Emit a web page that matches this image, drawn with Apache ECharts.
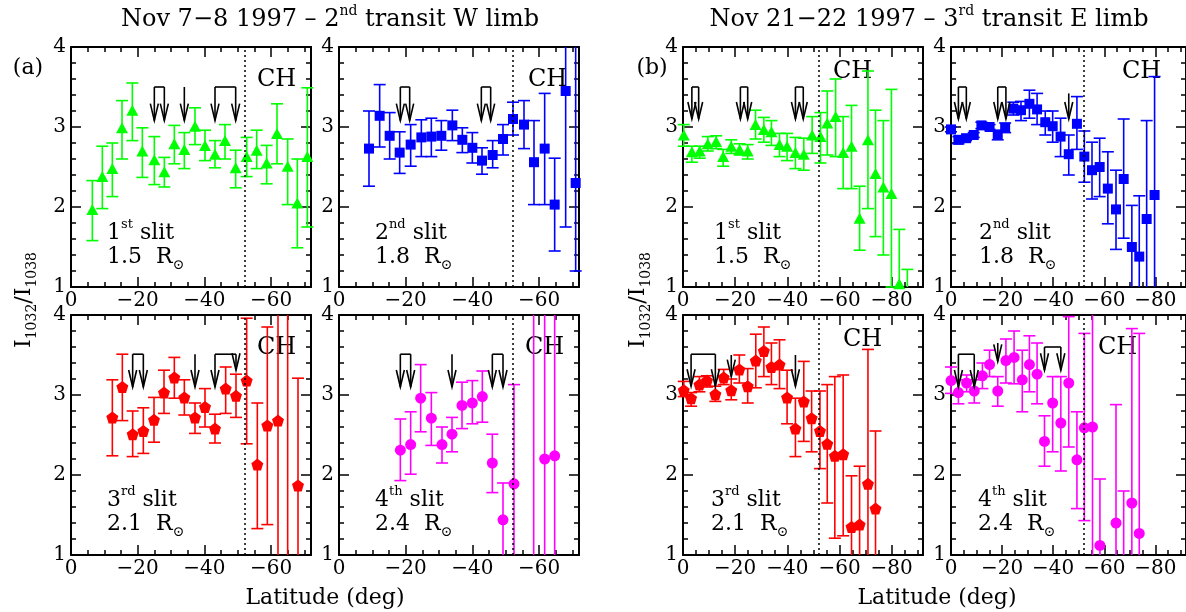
<!DOCTYPE html>
<html>
<head>
<meta charset="utf-8">
<script src="https://cdn.jsdelivr.net/npm/echarts@6/dist/echarts.min.js"></script>
<style>
  html, body { margin: 0; padding: 0; background: #fff; }
  #chart { width: 1186px; height: 612px; }
</style>
</head>
<body>
<div id="chart"></div>
<script>
// ---------- Nov 7-8 1997, 2nd transit, W limb ----------
const w1Lat = [-6.4,-9.4,-12.4,-15.3,-18.4,-21.4,-25.0,-28.0,-31.0,-34.0,-37.2,-40.2,-43.2,-46.2,-49.4,-52.7,-55.7,-58.7,-61.8,-65.0,-67.9,-70.9];
const w1Val = [1.97,2.38,2.48,2.99,3.21,2.70,2.59,2.44,2.79,2.72,3.01,2.77,2.66,2.83,2.49,2.63,2.71,2.55,2.92,2.51,2.05,2.63];
const w1Hi  = [2.33,2.76,2.80,3.33,3.55,2.99,2.88,2.62,3.02,2.93,3.24,2.96,2.83,3.03,2.71,2.87,2.96,2.77,3.29,2.85,2.60,3.49];
const w1Lo  = [1.58,1.98,2.13,2.60,2.83,2.37,2.28,2.25,2.54,2.48,2.78,2.58,2.49,2.60,2.24,2.38,2.48,2.29,2.54,2.03,1.49,1.75];

const w2Lat = [-9.0,-12.2,-15.2,-18.2,-21.5,-24.7,-27.7,-30.7,-34.0,-37.0,-40.0,-42.9,-46.1,-49.2,-52.2,-55.5,-58.5,-61.7,-64.7,-68.0,-71.0];
const w2Val = [2.73,3.14,2.89,2.68,2.78,2.87,2.88,2.89,3.02,2.84,2.74,2.58,2.65,2.85,3.10,3.03,2.56,2.73,2.03,3.45,2.30];
const w2Hi  = [3.20,3.53,3.18,2.94,3.03,3.09,3.11,3.08,3.21,2.99,2.93,2.74,2.83,3.03,3.31,3.33,3.08,3.42,2.61,4.60,4.20];
const w2Lo  = [2.26,2.75,2.60,2.42,2.51,2.63,2.63,2.71,2.83,2.68,2.55,2.41,2.49,2.65,2.90,2.73,2.03,2.03,1.45,1.75,1.20];

const w3Lat = [-12.4,-15.4,-18.5,-21.7,-24.9,-27.9,-31.0,-34.0,-37.2,-40.2,-43.2,-46.4,-49.5,-52.7,-55.9,-58.9,-62.1,-65.0,-68.1];
const w3Val = [2.72,3.10,2.51,2.55,2.69,3.03,3.22,2.97,2.72,2.85,2.58,3.08,2.99,3.18,2.13,2.62,2.68,0.80,1.87];
const w3Hi  = [3.19,3.51,2.80,2.84,2.97,3.31,3.47,3.19,2.90,3.08,2.76,3.35,3.26,3.96,2.90,3.85,4.50,4.50,3.21];
const w3Lo  = [2.24,2.68,2.23,2.27,2.41,2.77,2.96,2.75,2.52,2.60,2.40,2.77,2.72,2.39,1.33,1.38,0.50,0.50,0.50];

const w4Lat = [-18.4,-21.5,-24.5,-27.7,-30.9,-33.9,-36.9,-40.0,-43.0,-46.0,-49.2,-52.5,-58.4,-61.7,-64.7];
const w4Val = [2.31,2.38,2.96,2.71,2.38,2.51,2.87,2.90,2.98,2.15,1.44,1.89,0.80,2.20,2.24];
const w4Hi  = [2.70,2.79,3.38,3.03,2.60,2.72,3.16,3.18,3.30,2.51,1.90,3.13,4.50,4.50,4.50];
const w4Lo  = [1.93,2.01,2.54,2.37,2.15,2.29,2.58,2.64,2.66,1.78,0.80,0.50,0.50,0.50,0.50];

// ---------- Nov 21-22 1997, 3rd transit, E limb ----------
const e1Lat = [-0.3,-3.4,-6.4,-9.5,-12.7,-15.4,-18.5,-21.7,-24.8,-27.8,-31.0,-33.9,-37.0,-39.9,-43.1,-46.3,-49.5,-52.7,-55.3,-58.5,-61.4,-64.6,-67.7,-70.9,-73.8,-76.8,-79.9,-82.9,-86.0];
const e1Val = [2.90,2.69,2.70,2.79,2.82,2.63,2.76,2.72,2.70,3.03,2.97,2.94,2.78,2.76,2.68,2.66,2.90,2.88,3.05,3.13,2.68,2.76,1.86,2.84,2.42,2.25,2.17,1.04,0.90];
const e1Hi  = [3.03,2.76,2.76,2.88,2.89,2.72,2.84,2.79,2.78,3.21,3.12,3.08,2.92,2.92,2.87,2.86,3.13,3.18,3.45,3.60,3.13,3.27,2.26,3.70,3.21,3.08,3.47,1.72,1.22];
const e1Lo  = [2.76,2.56,2.61,2.70,2.73,2.51,2.67,2.65,2.60,2.85,2.81,2.77,2.63,2.58,2.48,2.46,2.67,2.55,2.65,2.63,2.23,2.23,1.46,1.98,1.63,1.40,1.00,0.50,0.50];

const e2Lat = [0.0,-2.9,-5.9,-8.9,-11.9,-15.1,-18.3,-21.2,-24.4,-27.4,-30.7,-33.7,-36.9,-39.8,-42.9,-46.1,-49.3,-52.2,-55.2,-58.2,-61.4,-64.6,-67.6,-70.8,-73.7,-76.6,-79.7];
const e2Val = [2.97,2.84,2.86,2.90,3.02,3.00,2.90,2.99,3.23,3.21,3.29,3.22,3.06,3.01,2.88,2.66,3.04,2.63,2.46,2.50,2.23,1.97,2.35,1.50,1.38,1.85,2.15];
const e2Hi  = [3.00,2.88,2.89,2.93,3.06,3.03,2.96,3.05,3.31,3.32,3.46,3.42,3.20,3.20,3.11,2.90,3.38,2.95,2.81,2.86,2.69,2.46,3.10,2.02,2.14,3.08,3.63];
const e2Lo  = [2.94,2.79,2.83,2.87,2.98,2.97,2.84,2.93,3.15,3.08,3.11,3.03,2.90,2.81,2.63,2.40,2.72,2.31,2.10,2.13,1.79,1.47,1.61,0.50,0.50,0.50,0.50];

const e3Lat = [-0.3,-3.1,-6.3,-9.2,-12.4,-15.6,-18.5,-21.6,-24.8,-27.9,-31.0,-33.9,-37.0,-39.9,-43.1,-46.3,-49.3,-52.5,-55.3,-58.2,-61.4,-64.6,-67.7,-70.9,-73.8];
const e3Val = [3.06,2.96,3.13,3.18,3.01,3.22,3.06,3.32,3.11,3.43,3.55,3.35,3.38,2.97,2.58,2.92,2.71,2.55,2.39,2.24,2.26,1.35,1.38,1.89,1.58];
const e3Hi  = [3.17,3.03,3.23,3.24,3.11,3.32,3.20,3.50,3.33,3.76,3.85,3.65,3.69,3.31,2.96,3.42,3.05,3.05,3.13,3.23,3.25,1.99,2.11,3.57,2.55];
const e3Lo  = [2.98,2.86,3.04,3.10,2.92,3.13,2.94,3.15,2.90,3.09,3.23,3.13,3.08,2.64,2.23,2.42,2.29,2.08,1.65,1.21,1.24,0.50,0.50,0.50,0.50];

const e4Lat = [0.0,-2.9,-6.1,-9.1,-12.3,-15.1,-18.3,-21.5,-24.7,-27.9,-30.7,-33.7,-36.6,-39.8,-43.0,-46.1,-49.3,-52.2,-55.4,-58.3,-64.6,-67.6,-70.8,-73.7];
const e4Val = [3.18,3.03,3.15,3.05,3.24,3.38,3.05,3.43,3.47,3.19,3.38,3.26,2.42,2.90,2.65,3.15,2.19,2.59,2.60,1.12,1.40,0.95,1.65,1.27];
const e4Hi  = [3.35,3.19,3.25,3.19,3.40,3.56,3.23,3.70,3.80,3.56,3.74,3.65,2.74,3.23,3.23,3.98,2.79,3.77,4.50,1.95,2.88,1.80,3.83,3.77];
const e4Lo  = [3.02,2.89,3.04,2.90,3.08,3.23,2.86,3.15,3.14,2.79,3.04,2.89,2.11,2.29,2.05,2.35,1.58,1.43,0.50,0.50,0.50,0.50,0.50,0.50];

// Downward arrows: [lat1, lat2, top, tip1, tip2] (a bracket joins lat1 and lat2 when they differ)
const w1Arrows = [[-25.0,-28.0,3.50,3.08,3.08],[-34.0,-34.0,3.50,3.08,3.08],[-43.2,-49.4,3.50,3.08,3.08]];
const w2Arrows = [[-18.4,-21.2,3.50,3.08,3.08],[-42.7,-45.5,3.50,3.08,3.08]];
const w3Arrows = [[-18.5,-21.7,3.51,3.10,3.10],[-37.2,-37.2,3.51,3.10,3.10],[-43.2,-49.5,3.51,3.10,3.31]];
const w4Arrows = [[-18.4,-21.5,3.51,3.10,3.10],[-33.9,-33.9,3.51,3.10,3.10],[-46.0,-49.2,3.51,3.10,3.10]];
const e1Arrows = [[-3.4,-6.0,3.50,3.10,3.10],[-22.0,-24.8,3.50,3.10,3.10],[-43.1,-46.1,3.50,3.10,3.10]];
const e2Arrows = [[-2.9,-6.0,3.50,3.10,3.10],[-18.3,-21.5,3.50,3.10,3.10],[-46.1,-46.1,3.42,3.10,3.10]];
const e3Arrows = [[-3.1,-12.4,3.51,3.11,3.11],[-18.5,-18.5,3.50,3.23,3.23],[-43.1,-43.1,3.50,3.11,3.11]];
const e4Arrows = [[-2.9,-9.1,3.51,3.10,3.10],[-18.3,-18.3,3.65,3.42,3.42],[-36.6,-43.0,3.60,3.31,3.31]];

// Coronal hole boundary latitude
const chLat = -52;

// Slit labels: ordinal, suffix, height in solar radii
const slitNames = [['1','st','1.5'],['2','nd','1.8'],['3','rd','2.1'],['4','th','2.4']];

const xTicksW = [0,-20,-40,-60];
const xTicksE = [0,-20,-40,-60,-80];

// ---------- styling / layout ----------
const FONT = "'DejaVu Serif', serif";
const GREEN = '#00ff00', BLUE = '#0000ff', RED = '#ff0000', MAGENTA = '#ff00ff';
const PENTAGON = 'path://M0,-10 L9.51,-3.09 L5.88,8.09 L-5.88,8.09 L-9.51,-3.09 Z';
const W = 240, H = 240;

const panels = [
  {lat:w1Lat,val:w1Val,lo:w1Lo,hi:w1Hi,arrows:w1Arrows,color:GREEN,  sym:'triangle',size:[12,11],slit:0,left:71, top:47, xMin:-72,ticks:xTicksW,ch:[257,80], lab:[107,233]},
  {lat:w2Lat,val:w2Val,lo:w2Lo,hi:w2Hi,arrows:w2Arrows,color:BLUE,   sym:'rect',    size:10,     slit:1,left:339,top:47, xMin:-72,ticks:xTicksW,ch:[528,80], lab:[375,233]},
  {lat:w3Lat,val:w3Val,lo:w3Lo,hi:w3Hi,arrows:w3Arrows,color:RED,    sym:PENTAGON,  size:12,     slit:2,left:71, top:315,xMin:-72,ticks:xTicksW,ch:[257,348],lab:[107,500]},
  {lat:w4Lat,val:w4Val,lo:w4Lo,hi:w4Hi,arrows:w4Arrows,color:MAGENTA,sym:'circle',  size:11,     slit:3,left:339,top:315,xMin:-72,ticks:xTicksW,ch:[525,348],lab:[375,500]},
  {lat:e1Lat,val:e1Val,lo:e1Lo,hi:e1Hi,arrows:e1Arrows,color:GREEN,  sym:'triangle',size:[12,11],slit:0,left:683,top:47, xMin:-92,ticks:xTicksE,ch:[833,72], lab:[714,233]},
  {lat:e2Lat,val:e2Val,lo:e2Lo,hi:e2Hi,arrows:e2Arrows,color:BLUE,   sym:'rect',    size:10,     slit:1,left:951,top:47, xMin:-92,ticks:xTicksE,ch:[1122,72],lab:[979,233]},
  {lat:e3Lat,val:e3Val,lo:e3Lo,hi:e3Hi,arrows:e3Arrows,color:RED,    sym:PENTAGON,  size:12,     slit:2,left:683,top:315,xMin:-92,ticks:xTicksE,ch:[843,340],lab:[711,500]},
  {lat:e4Lat,val:e4Val,lo:e4Lo,hi:e4Hi,arrows:e4Arrows,color:MAGENTA,sym:'circle',  size:11,     slit:3,left:951,top:315,xMin:-92,ticks:xTicksE,ch:[1098,348],lab:[978,500]}
];

const BLACK_LINE = { color: '#000', width: 2 };
const TICK_LINE = { color: '#000', width: 1.5 };
const latFmt = v => (v === 0 ? '0' : '\u2212' + Math.abs(v));

function errorBarRenderer(color) {
  return function (params, api) {
    const cs = params.coordSys;
    const x = api.value(0);
    const pLo = api.coord([x, api.value(1)]);
    const pHi = api.coord([x, api.value(2)]);
    const px = pLo[0];
    if (px < cs.x - 1 || px > cs.x + cs.width + 1) return null;
    const top = cs.y, bot = cs.y + cs.height;
    const clamp = v => Math.max(top, Math.min(bot, v));
    const style = { stroke: color, lineWidth: 1.6 };
    const kids = [{ type: 'line', shape: { x1: px, y1: clamp(pHi[1]), x2: px, y2: clamp(pLo[1]) }, style }];
    const half = 6;
    [pHi[1], pLo[1]].forEach(y => {
      if (y >= top && y <= bot) {
        kids.push({ type: 'line', shape: { x1: px - half, y1: y, x2: px + half, y2: y }, style });
      }
    });
    return { type: 'group', children: kids };
  };
}

function arrowRenderer(params, api) {
  const x1 = api.value(0), x2 = api.value(1), top = api.value(2);
  const tips = [api.value(3), api.value(4)];
  const style = { stroke: '#000', lineWidth: 1.6, fill: null };
  const kids = [];
  const xs = x1 === x2 ? [x1] : [x1, x2];
  xs.forEach((x, k) => {
    const a = api.coord([x, top]);
    const b = api.coord([x, tips[k]]);
    kids.push({ type: 'line', shape: { x1: a[0], y1: a[1], x2: b[0], y2: b[1] }, style });
    kids.push({ type: 'polyline', shape: { points: [[b[0] - 4, b[1] - 17], [b[0], b[1]], [b[0] + 4, b[1] - 17]] }, style });
  });
  if (xs.length > 1) {
    const a = api.coord([x1, top]), b = api.coord([x2, top]);
    kids.push({ type: 'line', shape: { x1: a[0], y1: a[1], x2: b[0], y2: b[1] }, style });
  }
  return { type: 'group', children: kids };
}

const grids = [], xAxes = [], yAxes = [], series = [], graphics = [];

panels.forEach((p, i) => {
  grids.push({ left: p.left, top: p.top, width: W, height: H });
  const minors = [];
  for (let v = -5; v > p.xMin; v -= 5) if (v % 20 !== 0) minors.push(v);
  const xBase = { type: 'value', gridIndex: i, min: p.xMin, max: 0, inverse: true, splitLine: { show: false } };
  const xi = xAxes.length;
  ['bottom', 'top'].forEach(pos => {
    xAxes.push(Object.assign({}, xBase, {
      position: pos,
      axisLine: { show: true, onZero: false, lineStyle: BLACK_LINE },
      axisTick: { show: true, inside: true, length: 10, customValues: p.ticks, lineStyle: TICK_LINE },
      axisLabel: pos === 'bottom'
        ? { show: true, customValues: p.ticks, formatter: latFmt, margin: 4, fontFamily: FONT, fontSize: 20, color: '#000' }
        : { show: false }
    }));
    xAxes.push(Object.assign({}, xBase, {
      position: pos,
      axisLine: { show: false, onZero: false },
      axisTick: { show: true, inside: true, length: 5, customValues: minors, lineStyle: TICK_LINE },
      axisLabel: { show: false }
    }));
  });
  const yi = yAxes.length;
  ['left', 'right'].forEach(pos => {
    yAxes.push({
      type: 'value', gridIndex: i, min: 1, max: 4, interval: 1, position: pos,
      axisLine: { show: true, onZero: false, lineStyle: BLACK_LINE },
      axisTick: { show: true, inside: true, length: 10, lineStyle: TICK_LINE },
      minorTick: { show: true, splitNumber: 5, length: 5, lineStyle: TICK_LINE },
      axisLabel: pos === 'left'
        ? { show: true, margin: 5, fontFamily: FONT, fontSize: 20, color: '#000' }
        : { show: false },
      splitLine: { show: false }, minorSplitLine: { show: false }
    });
  });

  series.push({
    type: 'custom', xAxisIndex: xi, yAxisIndex: yi, silent: true, z: 2,
    renderItem: errorBarRenderer(p.color),
    data: p.lat.map((x, k) => [x, p.lo[k], p.hi[k]])
  });
  series.push({
    type: 'scatter', xAxisIndex: xi, yAxisIndex: yi, silent: true, z: 3, clip: true,
    symbol: p.sym, symbolSize: p.size,
    itemStyle: { color: p.color, opacity: 1 },
    data: p.lat.map((x, k) => [x, p.val[k]]),
    markLine: {
      silent: true, symbol: 'none', label: { show: false }, animation: false,
      lineStyle: { color: '#000', type: [2, 3], width: 1.5 },
      data: [{ xAxis: chLat }]
    }
  });
  series.push({
    type: 'custom', xAxisIndex: xi, yAxisIndex: yi, silent: true, z: 4,
    renderItem: arrowRenderer,
    data: p.arrows
  });

  // panel annotations
  const s = slitNames[p.slit];
  graphics.push({
    type: 'text', x: p.ch[0], y: p.ch[1], silent: true,
    style: { text: 'CH', fontFamily: FONT, fontSize: 24, fill: '#000', align: 'left', verticalAlign: 'middle' }
  });
  graphics.push({
    type: 'text', x: p.lab[0], y: p.lab[1], silent: true,
    style: {
      text: '{n|' + s[0] + '}{s|' + s[1] + '}{n| slit}', align: 'left', verticalAlign: 'middle', fill: '#000',
      rich: {
        n: { fontFamily: FONT, fontSize: 22, lineHeight: 30, fill: '#000' },
        s: { fontFamily: FONT, fontSize: 13, lineHeight: 14, verticalAlign: 'top', fill: '#000' }
      }
    }
  });
  graphics.push({
    type: 'text', x: p.lab[0], y: p.lab[1] + 24, silent: true,
    style: {
      text: '{n|' + s[2] + '  R}{o|\u2299}', align: 'left', verticalAlign: 'middle', fill: '#000',
      rich: {
        n: { fontFamily: FONT, fontSize: 22, lineHeight: 30, fill: '#000' },
        o: { fontFamily: FONT, fontSize: 14, lineHeight: 14, verticalAlign: 'bottom', fill: '#000' }
      }
    }
  });
});

// figure-level text
function supTitle(x, a, sup, b) {
  return {
    type: 'text', x: x, y: 20, silent: true,
    style: {
      text: '{t|' + a + '}{s|' + sup + '}{t|' + b + '}', align: 'center', verticalAlign: 'middle', fill: '#000',
      rich: {
        t: { fontFamily: FONT, fontSize: 24, lineHeight: 32, fill: '#000' },
        s: { fontFamily: FONT, fontSize: 14, lineHeight: 16, verticalAlign: 'top', fill: '#000' }
      }
    }
  };
}
graphics.push(supTitle(330, 'Nov 7\u22128 1997 \u2013 2', 'nd', ' transit W limb'));
graphics.push(supTitle(929, 'Nov 21\u221222 1997 \u2013 3', 'rd', ' transit E limb'));

[[28, '(a)'], [652, '(b)']].forEach(([x, t]) => {
  graphics.push({ type: 'text', x: x, y: 68, silent: true,
    style: { text: t, fontFamily: FONT, fontSize: 22, fill: '#000', align: 'center', verticalAlign: 'middle' } });
});

[325, 937].forEach(x => {
  graphics.push({ type: 'text', x: x, y: 598, silent: true,
    style: { text: 'Latitude (deg)', fontFamily: FONT, fontSize: 22, fill: '#000', align: 'center', verticalAlign: 'middle' } });
});

[24, 638].forEach(x => {
  graphics.push({
    type: 'text', x: x, y: 300, rotation: Math.PI / 2, silent: true,
    style: {
      text: '{i|I}{b|1032}{i|/I}{b|1038}', align: 'center', verticalAlign: 'middle', fill: '#000',
      rich: {
        i: { fontFamily: FONT, fontSize: 22, lineHeight: 30, fill: '#000' },
        b: { fontFamily: FONT, fontSize: 14, lineHeight: 14, verticalAlign: 'bottom', fill: '#000' }
      }
    }
  });
});

const chart = echarts.init(document.getElementById('chart'), null, { renderer: 'canvas' });
chart.setOption({
  animation: false,
  backgroundColor: '#fff',
  grid: grids,
  xAxis: xAxes,
  yAxis: yAxes,
  series: series,
  graphic: graphics
});
</script>
</body>
</html>
